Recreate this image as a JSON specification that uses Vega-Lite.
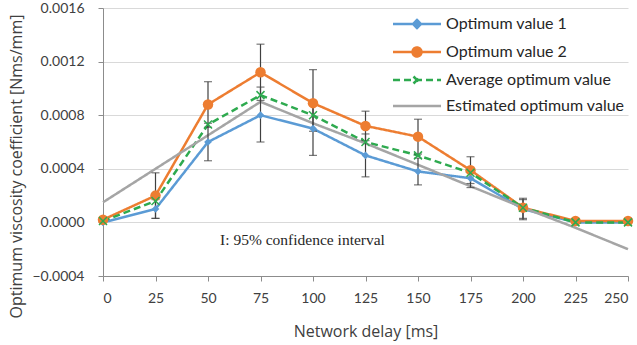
{
  "$schema": "https://vega.github.io/schema/vega-lite/v6.json",
  "width": 525,
  "height": 268,
  "autosize": "none",
  "padding": {"left": 103, "top": 8, "right": 9, "bottom": 69},
  "background": "white",
  "config": {
    "view": {"stroke": null},
    "font": "Lato",
    "axis": {"labelFont": "Lato", "titleFont": "Open Sans", "labelColor": "#404040", "titleColor": "#404040", "titleFontWeight": "normal", "labelFontSize": 14, "titleFontSize": 16, "domainColor": "#8c8c8c", "tickColor": "#8c8c8c", "gridColor": "#d9d9d9"}
  },
  "data": {"values": [
    {"x": 0, "series": "Optimum value 1", "y": 0.0},
    {"x": 25, "series": "Optimum value 1", "y": 0.0001, "lo": 0.00003, "hi": 0.00017},
    {"x": 50, "series": "Optimum value 1", "y": 0.0006, "lo": 0.00046, "hi": 0.00074},
    {"x": 75, "series": "Optimum value 1", "y": 0.0008, "lo": 0.0006, "hi": 0.00101},
    {"x": 100, "series": "Optimum value 1", "y": 0.0007, "lo": 0.0005, "hi": 0.0009},
    {"x": 125, "series": "Optimum value 1", "y": 0.0005, "lo": 0.00034, "hi": 0.00066},
    {"x": 150, "series": "Optimum value 1", "y": 0.00038, "lo": 0.00028, "hi": 0.00048},
    {"x": 175, "series": "Optimum value 1", "y": 0.00033, "lo": 0.00026, "hi": 0.0004},
    {"x": 200, "series": "Optimum value 1", "y": 0.0001, "lo": 0.00003, "hi": 0.00017},
    {"x": 225, "series": "Optimum value 1", "y": 0.0},
    {"x": 250, "series": "Optimum value 1", "y": 0.0},
    {"x": 0, "series": "Optimum value 2", "y": 0.00002},
    {"x": 25, "series": "Optimum value 2", "y": 0.0002, "lo": 0.00003, "hi": 0.00037},
    {"x": 50, "series": "Optimum value 2", "y": 0.00088, "lo": 0.00071, "hi": 0.00105},
    {"x": 75, "series": "Optimum value 2", "y": 0.00112, "lo": 0.00091, "hi": 0.00133},
    {"x": 100, "series": "Optimum value 2", "y": 0.00089, "lo": 0.00068, "hi": 0.00114},
    {"x": 125, "series": "Optimum value 2", "y": 0.00072, "lo": 0.00061, "hi": 0.00083},
    {"x": 150, "series": "Optimum value 2", "y": 0.00064, "lo": 0.00051, "hi": 0.00077},
    {"x": 175, "series": "Optimum value 2", "y": 0.00039, "lo": 0.00029, "hi": 0.00049},
    {"x": 200, "series": "Optimum value 2", "y": 0.00011, "lo": 0.00002, "hi": 0.00018},
    {"x": 225, "series": "Optimum value 2", "y": 0.00001},
    {"x": 250, "series": "Optimum value 2", "y": 0.00001},
    {"x": 0, "series": "Average optimum value", "y": 0.00001},
    {"x": 25, "series": "Average optimum value", "y": 0.00016},
    {"x": 50, "series": "Average optimum value", "y": 0.00073},
    {"x": 75, "series": "Average optimum value", "y": 0.00095},
    {"x": 100, "series": "Average optimum value", "y": 0.0008},
    {"x": 125, "series": "Average optimum value", "y": 0.0006},
    {"x": 150, "series": "Average optimum value", "y": 0.0005},
    {"x": 175, "series": "Average optimum value", "y": 0.00037},
    {"x": 200, "series": "Average optimum value", "y": 0.00011},
    {"x": 225, "series": "Average optimum value", "y": 0.0},
    {"x": 250, "series": "Average optimum value", "y": 0.0},
    {"x": 0, "series": "Estimated optimum value", "y": 0.00015},
    {"x": 25, "series": "Estimated optimum value", "y": 0.0004},
    {"x": 50, "series": "Estimated optimum value", "y": 0.00065},
    {"x": 75, "series": "Estimated optimum value", "y": 0.0009},
    {"x": 100, "series": "Estimated optimum value", "y": 0.00074},
    {"x": 125, "series": "Estimated optimum value", "y": 0.00059},
    {"x": 150, "series": "Estimated optimum value", "y": 0.00043},
    {"x": 175, "series": "Estimated optimum value", "y": 0.00027},
    {"x": 200, "series": "Estimated optimum value", "y": 0.00011},
    {"x": 225, "series": "Estimated optimum value", "y": -0.00004},
    {"x": 250, "series": "Estimated optimum value", "y": -0.0002}
  ]},
  "encoding": {
    "x": {"field": "x", "type": "quantitative", "title": "Network delay [ms]",
      "scale": {"domain": [0, 250], "nice": false, "zero": false},
      "axis": {"values": [0, 25, 50, 75, 100, 125, 150, 175, 200, 225, 250], "grid": false, "tickSize": 5, "labelPadding": 10, "titlePadding": 18}},
    "y": {"field": "y", "type": "quantitative", "title": "Optimum viscosity coefficient [Nms/mm]",
      "scale": {"domain": [-0.0004, 0.0016], "nice": false, "zero": false},
      "axis": {"values": [-0.0004, 0, 0.0004, 0.0008, 0.0012, 0.0016], "format": ".4f", "tickSize": 5, "labelPadding": 14, "titlePadding": 7, "titleY": 158}}
  },
  "layer": [
    {
      "mark": {"type": "line", "strokeWidth": 2.5},
      "encoding": {
        "color": {"field": "series", "type": "nominal",
          "scale": {"domain": ["Optimum value 1", "Optimum value 2", "Average optimum value", "Estimated optimum value"], "range": ["#5b9bd5", "#ed7d31", "#2eaa4f", "#a5a5a5"]},
          "legend": {"title": null, "orient": "none", "legendX": 306, "legendY": 8, "symbolType": "M-4.8,0H4.8", "symbolSize": 100, "symbolStrokeWidth": 2.5, "labelFont": "Lato", "labelFontSize": 16, "labelLimit": 0, "labelColor": "#262626", "labelOffset": 21, "rowPadding": 9,
            "encode": {"symbols": {"update": {
              "shape": {"signal": "datum.value === 'Optimum value 1' ? 'M-4.8,0H4.8M0,-0.8L0.8,0L0,0.8L-0.8,0Z' : datum.value === 'Optimum value 2' ? 'M-4.8,0H4.8M-0.9,0A0.9,0.9,0,1,0,0.9,0A0.9,0.9,0,1,0,-0.9,0Z' : datum.value === 'Average optimum value' ? 'M-4.8,0H4.8M-0.7,-0.7L0.7,0.7M-0.7,0.7L0.7,-0.7' : 'M-4.8,0H4.8'"},
              "fill": {"scale": "color", "field": "value"},
              "strokeDash": {"signal": "datum.value === 'Average optimum value' ? [6, 3] : [1, 0]"}
            }}}}},
        "strokeDash": {"field": "series", "type": "nominal",
          "scale": {"domain": ["Optimum value 1", "Optimum value 2", "Average optimum value", "Estimated optimum value"], "range": [[1, 0], [1, 0], [7, 4], [1, 0]]},
          "legend": null}
      }
    },
    {
      "transform": [{"filter": "isValid(datum.lo)"}],
      "mark": {"type": "rule", "color": "#404040", "strokeWidth": 1.2},
      "encoding": {"y": {"field": "lo", "type": "quantitative"}, "y2": {"field": "hi"}}
    },
    {
      "transform": [{"filter": "isValid(datum.lo)"}],
      "mark": {"type": "tick", "orient": "horizontal", "color": "#404040", "size": 8, "thickness": 1.2},
      "encoding": {"y": {"field": "lo", "type": "quantitative"}}
    },
    {
      "transform": [{"filter": "isValid(datum.hi)"}],
      "mark": {"type": "tick", "orient": "horizontal", "color": "#404040", "size": 8, "thickness": 1.2},
      "encoding": {"y": {"field": "hi", "type": "quantitative"}}
    },
    {
      "transform": [{"filter": "datum.series === 'Optimum value 1'"}],
      "mark": {"type": "point", "shape": "diamond", "filled": true, "size": 60, "color": "#5b9bd5", "opacity": 1}
    },
    {
      "transform": [{"filter": "datum.series === 'Optimum value 2'"}],
      "mark": {"type": "point", "shape": "circle", "filled": true, "size": 110, "color": "#ed7d31", "opacity": 1}
    },
    {
      "transform": [{"filter": "datum.series === 'Average optimum value'"}],
      "mark": {"type": "point", "shape": "M-1,-1L1,1M-1,1L1,-1", "filled": false, "size": 64, "strokeWidth": 1.5, "color": "#2eaa4f", "opacity": 1}
    },
    {
      "data": {"values": [{"x": 95, "y": -0.000135, "label": "I: 95% confidence interval"}]},
      "mark": {"type": "text", "font": "Liberation Serif", "fontSize": 15.5, "color": "#262626"},
      "encoding": {"text": {"field": "label"}}
    }
  ]
}
